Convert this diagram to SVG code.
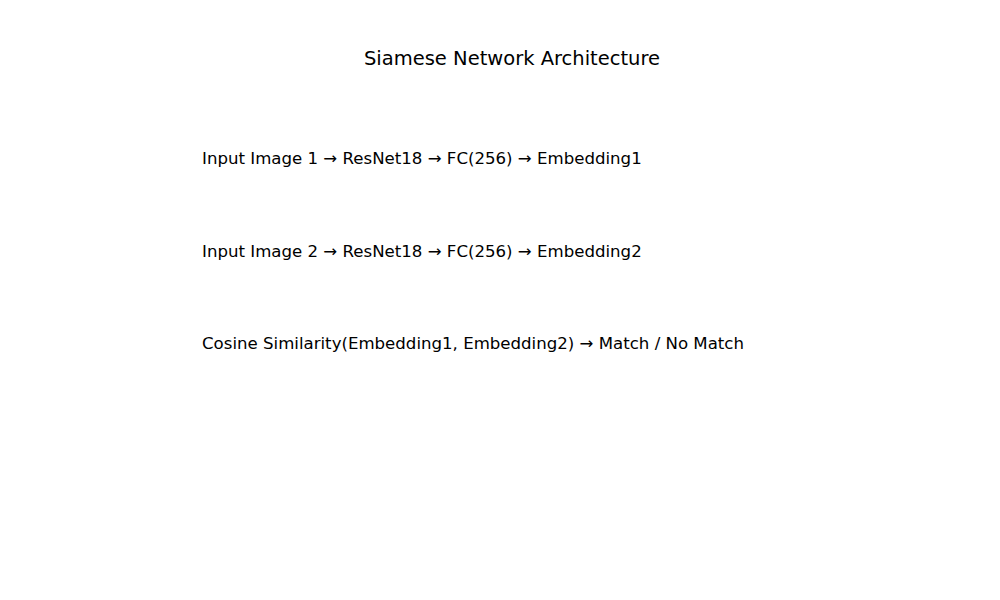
<svg xmlns="http://www.w3.org/2000/svg" width="1000" height="600" viewBox="0 0 1000 600">
<style>
text { font-family: "DejaVu Sans", sans-serif; fill: #000; }
.t { font-size: 19.5px; text-anchor: middle; }
.l { font-size: 16.6px; }
</style>
<rect width="1000" height="600" fill="#fff"/>
<g id="title"><text class="t" x="512" y="64.5">Siamese Network Architecture</text></g>
<g id="line1"><text class="l" x="202" y="164">Input Image 1 → ResNet18 → FC(256) → Embedding1</text></g>
<g id="line2"><text class="l" x="202" y="257">Input Image 2 → ResNet18 → FC(256) → Embedding2</text></g>
<g id="line3"><text class="l" x="202" y="349">Cosine Similarity(Embedding1, Embedding2) → Match / No Match</text></g>
<g id="connectors"></g>
</svg>
